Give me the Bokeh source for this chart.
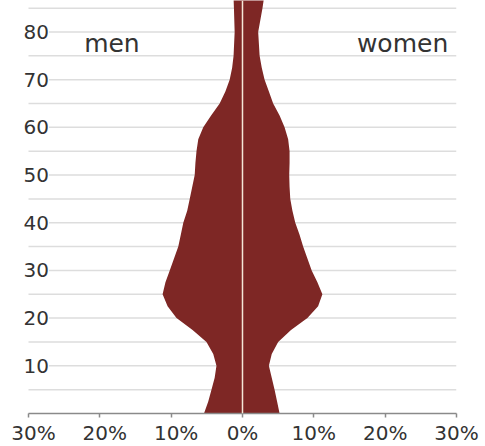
from bokeh.plotting import figure
from bokeh.models import ColumnDataSource, LabelSet, Label, Span, FixedTicker
from bokeh.core.properties import value
from bokeh.embed import file_html
from bokeh.resources import INLINE

# age (years) and share of population (%)
ages = [0, 2.5, 5, 7.5, 10, 12.5, 15, 17.5, 20, 22.5, 25, 27.5, 30, 32.5, 35, 37.5,
        40, 42.5, 45, 47.5, 50, 52.5, 55, 57.5, 60, 62.5, 65, 67.5, 70, 72.5, 75,
        80, 85, 87]
men = [5.4, 4.8, 4.35, 3.9, 3.65, 4.1, 5.05, 7.0, 9.25, 10.5, 11.2, 10.8, 10.2, 9.6, 9.0, 8.65,
       8.3, 7.75, 7.4, 7.05, 6.7, 6.6, 6.45, 6.2, 5.5, 4.4, 3.2, 2.4, 1.8, 1.45, 1.25,
       1.1, 1.2, 1.25]
women = [5.2, 4.85, 4.5, 4.1, 3.7, 4.1, 5.0, 6.8, 9.1, 10.6, 11.2, 10.5, 9.7, 9.1, 8.5, 8.0,
         7.4, 7.0, 6.7, 6.6, 6.55, 6.6, 6.6, 6.4, 5.9, 5.2, 4.3, 3.7, 3.1, 2.7, 2.4,
         2.2, 2.8, 3.0]

x_ticks = [-30, -20, -10, 0, 10, 20, 30]
x_tick_labels = ["\u200230%", "\u200220%", "\u200210%", "0%", "10%", "20%", "30%"]
y_ticks = [10, 20, 30, 40, 50, 60, 70, 80]
y_grid = [5, 10, 15, 20, 25, 30, 35, 40, 45, 50, 55, 60, 65, 70, 75, 80, 85]

FILL = "#7e2725"
FONT = "DejaVu Sans"
TXT = "#333333"

p = figure(frame_width=436, frame_height=413,
           x_range=(-31.12, 30), y_range=(0, 86.6),
           min_border_left=20, min_border_right=25, min_border_top=0,
           output_backend="svg", toolbar_location=None,
           y_axis_location=None)
p.outline_line_color = None
p.background_fill_color = "white"
p.xgrid.visible = False
p.ygrid.visible = False

# horizontal grid lines spanning the x axis extent
gsrc = ColumnDataSource(dict(y=y_grid, x0=[x_ticks[0]] * len(y_grid), x1=[x_ticks[-1]] * len(y_grid)))
p.segment(x0="x0", y0="y", x1="x1", y1="y", source=gsrc, line_color="#dddddd", line_width=1.5)

ax = p.xaxis[0]
ax.ticker = FixedTicker(ticks=x_ticks)
ax.bounds = (x_ticks[0], x_ticks[-1])
ax.major_label_overrides = {t: s for t, s in zip(x_ticks, x_tick_labels)}
ax.axis_line_color = "#8a8a8a"
ax.axis_line_width = 1.5
ax.major_tick_line_color = "#8a8a8a"
ax.major_tick_line_width = 1.5
ax.major_tick_in = 0
ax.major_tick_out = 4
ax.minor_tick_line_color = None
ax.major_label_text_font = FONT
ax.major_label_text_font_size = "20px"
ax.major_label_text_color = TXT
ax.major_label_standoff = 3

src = ColumnDataSource(dict(y=ages, x1=[-m for m in men], x2=women))
p.harea(y="y", x1="x1", x2="x2", source=src, fill_color=FILL, fill_alpha=1.0)

p.add_layout(Span(location=0, dimension="height", line_color="#f5e8d8", line_width=1.5))

ysrc = ColumnDataSource(dict(y=y_ticks, x=[x_ticks[0]] * len(y_ticks), t=[str(v) for v in y_ticks]))
p.add_layout(LabelSet(x="x", y="y", text="t", source=ysrc, x_offset=20.5,
                      text_align="right", text_baseline="middle",
                      text_font=value(FONT), text_font_size=value("20px"),
                      text_color=TXT, background_fill_color="white"))

p.add_layout(Label(x=-22.2, y=77.5, text="men", text_align="left", text_baseline="middle",
                   text_font=FONT, text_font_size="25px", text_color=TXT))
p.add_layout(Label(x=28.84, y=77.5, text="women", text_align="right", text_baseline="middle",
                   text_font=FONT, text_font_size="25px", text_color=TXT))

open("out.html", "w").write(file_html(p, INLINE))
